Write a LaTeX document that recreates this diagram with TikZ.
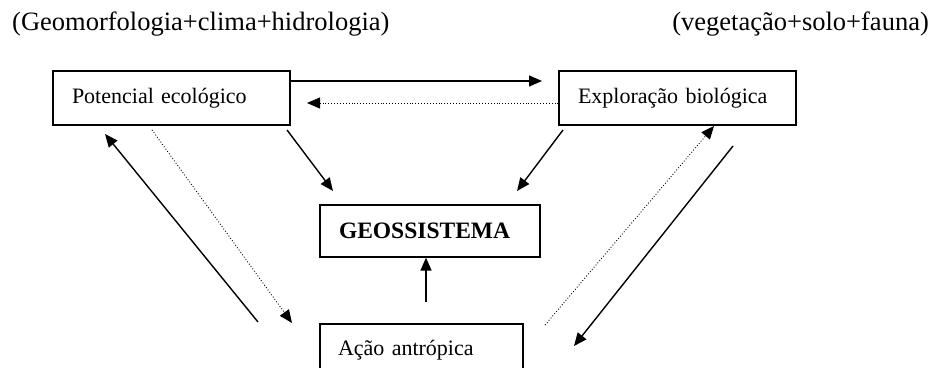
\documentclass[tikz,border=0pt]{standalone}
\usepackage{fontspec}
\setmainfont{Liberation Serif}
\usetikzlibrary{arrows.meta}
\begin{document}
\begin{tikzpicture}[x=1pt,y=-1pt,
  box/.style={draw, line width=1.3pt, inner sep=0pt, minimum height=54pt, font=\fontsize{22}{24}\selectfont, align=left},
  top/.style={inner sep=0pt, font=\fontsize{26.5}{28}\selectfont},
  solidarr/.style={line width=1.4pt, -{Triangle[length=13pt,width=11pt]}},
  dotarr/.style={line width=0.9pt, dotted, -{Triangle[length=13pt,width=11pt]}},
  dotline/.style={line width=0.9pt, dotted}
]
\clip (0,0) rectangle (944,367);
\node[top, anchor=west] (tl) at (12,24) {(Geomorfologia+clima+hidrologia)};
\node[top, anchor=east] (tr) at (929,24) {(vegetação+solo+fauna)};

\node[box, minimum width=237pt, text width=199pt] (pot) at (171.5,98) {Potencial ecológico};
\node[box, minimum width=237pt, text width=199pt] (exp) at (677.5,98) {Exploração biológica};
\node[box, minimum width=220pt, minimum height=52pt, text width=182pt, font=\fontsize{23.5}{25}\selectfont\bfseries] (geo) at (430,231) {GEOSSISTEMA};
\node[box, minimum width=203pt, minimum height=52pt, text width=167pt] (aca) at (421.5,350) {Ação antrópica};

% top arrows
\coordinate (t1) at (pot.east |- 0,81);
\coordinate (t2) at (542,81);
\draw[solidarr] (t1) -- (t2);
\coordinate (d1) at (exp.west |- 0,103);
\coordinate (d2) at (307,103);
\draw[dotarr] (d1) -- (d2);

% to geossistema
\coordinate (p1) at (287,130);
\coordinate (p2) at (333,191);
\draw[solidarr] (p1) -- (p2);
\coordinate (e1) at (563,130);
\coordinate (e2) at (517,191);
\draw[solidarr] (e1) -- (e2);
\coordinate (a1) at (426,302);
\draw[solidarr] (a1) -- (geo.south -| a1);

% left pair
\coordinate (l1) at (258,322);
\coordinate (l2) at (105,134);
\draw[solidarr] (l1) -- (l2);
\coordinate (l3) at (152,130);
\coordinate (l4) at (292,323);
\draw[dotarr] (l3) -- (l4);

% right pair
\coordinate (r1) at (545,325);
\coordinate (r2) at (714,126);
\draw[dotarr] (r1) -- (r2);
\coordinate (r3) at (733,146);
\coordinate (r4) at (574,346);
\draw[solidarr] (r3) -- (r4);
\end{tikzpicture}
\end{document}
